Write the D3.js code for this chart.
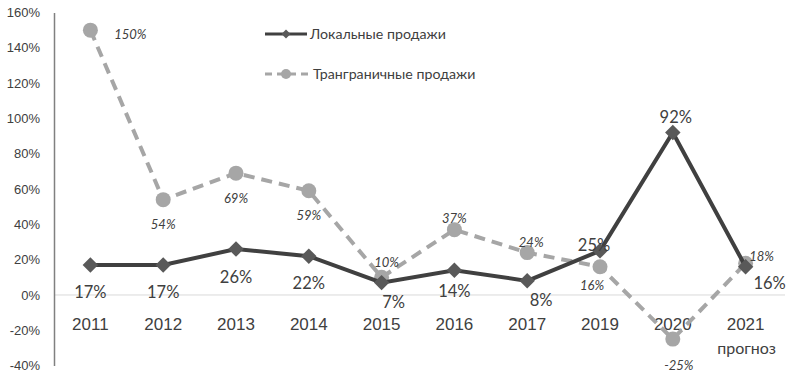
<!DOCTYPE html>
<html><head><meta charset="utf-8">
<script src="https://cdn.jsdelivr.net/npm/d3@7"></script>
<style>body{margin:0;background:#fff}svg{display:block}</style>
</head><body>
<script>
const categories = ["2011","2012","2013","2014","2015","2016","2017","2019","2020","2021"];
const localSales = [17,17,26,22,7,14,8,25,92,16];
const crossSales = [150,54,69,59,10,37,24,16,-25,18];
const yTicks = [-40,-20,0,20,40,60,80,100,120,140,160];
const seriesNames = ["Локальные продажи","Транграничные продажи"];
const forecastNote = "прогноз";

const W=798,H=389;
const svg=d3.select("body").append("svg").attr("width",W).attr("height",H)
  .style("font-family","Lato, 'Open Sans', sans-serif");
const x=d3.scaleBand().domain(categories).range([54,782]);
const y=d3.scaleLinear().domain([-40,160]).range([365.6,12.5]);
const cx=c=>x(c)+x.bandwidth()/2;

// zero line
svg.append("line").attr("x1",54).attr("x2",785).attr("y1",y(0)).attr("y2",y(0))
  .attr("stroke","#d9d9d9").attr("stroke-width",1);
// y axis
const ya=svg.append("g").attr("transform","translate(54,0)")
  .call(d3.axisLeft(y).tickValues(yTicks).tickSize(0).tickPadding(14).tickFormat(d=>d+"%"));
ya.select(".domain").attr("stroke","#808080").attr("stroke-width",1.5);
ya.selectAll("text").attr("font-size",13).attr("fill","#404040");

// x labels
const xa=svg.append("g").attr("transform",`translate(0,${y(0)})`)
  .call(d3.axisBottom(x).tickSize(0).tickPadding(23));
xa.select(".domain").remove();
xa.selectAll("text").attr("font-size",17).attr("fill","#404040");
svg.append("text").attr("x",cx("2021")+1).attr("y",353.5).attr("text-anchor","middle")
  .attr("font-size",16).attr("fill","#404040").text(forecastNote);

// cross series
const line=d3.line().x((d,i)=>cx(categories[i])).y(d=>y(d));
svg.append("path").datum(crossSales).attr("d",line).attr("fill","none")
  .attr("stroke","#a6a6a6").attr("stroke-width",4).attr("stroke-dasharray","11,7");
svg.selectAll(".cdot").data(crossSales).enter().append("circle")
  .attr("cx",(d,i)=>cx(categories[i])).attr("cy",d=>y(d)).attr("r",7.5).attr("fill","#a6a6a6");

// local series
svg.append("path").datum(localSales).attr("d",line).attr("fill","none")
  .attr("stroke","#404040").attr("stroke-width",4);
svg.selectAll(".ldot").data(localSales).enter().append("path")
  .attr("transform",(d,i)=>`translate(${cx(categories[i])},${y(d)}) rotate(45)`)
  .attr("d",d3.symbol().type(d3.symbolSquare).size(120)).attr("fill","#595959");

// local labels: offsets [dx, dy] relative to point (label baseline)
const localOff=[[0,33],[0,33],[0,33.5],[0,33],[12,25],[0,27],[14,25],[-6,0],[3,-10],[24,22]];
svg.selectAll(".ll").data(localSales).enter().append("text")
  .attr("x",(d,i)=>cx(categories[i])+localOff[i][0]).attr("y",(d,i)=>y(d)+localOff[i][1])
  .attr("text-anchor","middle").attr("font-size",16.5).attr("fill","#404040").text(d=>d+"%");

// cross labels
const crossOff=[[40,8.5],[0,29.5],[0,29.5],[0,29.5],[5,-10],[0,-7],[4,-6],[-8,23],[6,30.5],[16,-2]];
svg.selectAll(".cl").data(crossSales).enter().append("text")
  .attr("x",(d,i)=>cx(categories[i])+crossOff[i][0]).attr("y",(d,i)=>y(d)+crossOff[i][1])
  .attr("text-anchor","middle").attr("font-size",13).attr("font-style","italic")
  .attr("fill","#404040").text(d=>d+"%");

// legend
const lg=svg.append("g");
lg.append("line").attr("x1",265).attr("x2",307).attr("y1",34).attr("y2",34)
  .attr("stroke","#404040").attr("stroke-width",3);
lg.append("path").attr("transform","translate(286,34) rotate(45)")
  .attr("d",d3.symbol().type(d3.symbolSquare).size(40)).attr("fill","#595959");
lg.append("text").attr("x",310).attr("y",39).attr("font-size",14.2).attr("fill","#404040").text(seriesNames[0]);
lg.append("line").attr("x1",265).attr("x2",309).attr("y1",74).attr("y2",74)
  .attr("stroke","#a6a6a6").attr("stroke-width",3).attr("stroke-dasharray","7,5");
lg.append("circle").attr("cx",286).attr("cy",74).attr("r",5).attr("fill","#a6a6a6");
lg.append("text").attr("x",313).attr("y",79).attr("font-size",14.2).attr("fill","#404040").text(seriesNames[1]);
</script>
</body></html>
